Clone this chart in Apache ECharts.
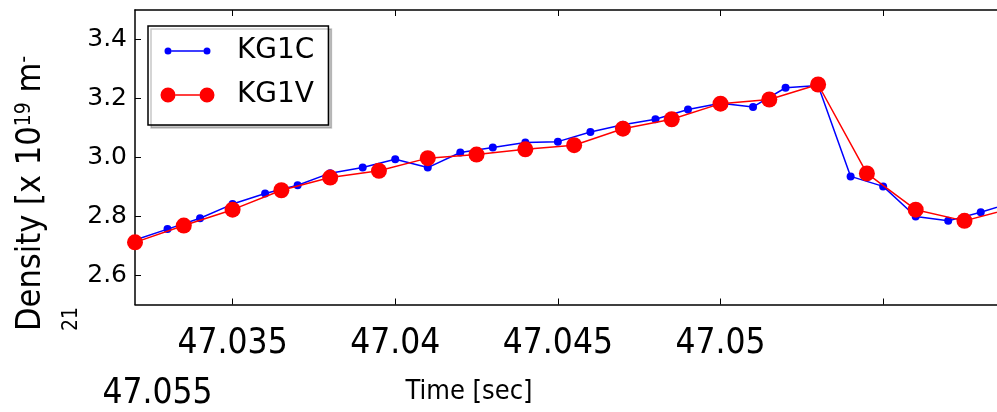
<!DOCTYPE html>
<html>
<head>
<meta charset="utf-8">
<script src="https://cdn.jsdelivr.net/npm/echarts@6/dist/echarts.min.js"></script>
<style>
html,body{margin:0;padding:0;background:#fff;}
#chart{width:997px;height:412px;}
</style>
</head>
<body>
<div id="chart"></div>
<script>
// ---- data ----
var kg1cTime = [47.032,47.033,47.034,47.035,47.036,47.037,47.038,47.039,47.040,47.041,47.042,47.043,47.044,47.045,47.046,47.047,47.048,47.049,47.050,47.051,47.052,47.053,47.054,47.055,47.056,47.057,47.058,47.059];
var kg1cDensity = [2.719,2.756,2.793,2.841,2.877,2.905,2.946,2.965,2.993,2.965,3.016,3.033,3.050,3.053,3.086,3.110,3.129,3.162,3.183,3.171,3.236,3.244,2.935,2.901,2.799,2.784,2.813,2.847];
var kg1vTime = [47.0320,47.0335,47.0350,47.0365,47.0380,47.0395,47.0410,47.0425,47.0440,47.0455,47.0470,47.0485,47.0500,47.0515,47.0530,47.0545,47.0560,47.0575,47.0590];
var kg1vDensity = [2.711,2.768,2.822,2.888,2.931,2.954,2.997,3.009,3.027,3.041,3.097,3.129,3.182,3.196,3.247,2.945,2.822,2.784,2.828];
var xTickValues = [47.035,47.040,47.045,47.050,47.055];
var xLabelValues = [47.035,47.040,47.045,47.050];
var yTickValues = [2.6,2.8,3.0,3.2,3.4];
var seriesNames = ['KG1C','KG1V'];

function zip(a,b){var r=[];for(var i=0;i<a.length;i++){r.push([a[i],b[i]]);}return r;}

var narrow = '"Liberation Sans Narrow","DejaVu Sans Condensed","Liberation Sans",sans-serif';
var cond = '"DejaVu Sans Condensed","Liberation Sans Narrow","DejaVu Sans",sans-serif';
var dv = '"DejaVu Sans",sans-serif';

// legend icons (line with two end markers); tiny corner specks fix the bounding box
var blueIcon = 'path://M0,0L0.01,0L0,0.01Z M55,16L54.99,16L55,15.99Z M4.5,8A3.5,3.5 0 1,0 11.5,8A3.5,3.5 0 1,0 4.5,8Z M11.5,7.3L43.5,7.3L43.5,8.7L11.5,8.7Z M43.5,8A3.5,3.5 0 1,0 50.5,8A3.5,3.5 0 1,0 43.5,8Z';
var redIcon = 'path://M0,0L0.01,0L0,0.01Z M55,16L54.99,16L55,15.99Z M0.5,8A7.5,7.5 0 1,0 15.5,8A7.5,7.5 0 1,0 0.5,8Z M15.5,7.3L39.5,7.3L39.5,8.7L15.5,8.7Z M39.5,8A7.5,7.5 0 1,0 54.5,8A7.5,7.5 0 1,0 39.5,8Z';

var chart = echarts.init(document.getElementById('chart'), null, {renderer:'canvas'});
var axisLineStyle = {color:'#000', width:1.5};
chart.setOption({
  animation:false,
  backgroundColor:'#fff',
  grid:{left:135, right:0, top:10, bottom:107.5, containLabel:false},
  legend:{
    left:148, top:26, orient:'vertical',
    padding:[8,14,13,12],
    itemWidth:55, itemHeight:16, itemGap:10,
    borderColor:'#000', borderWidth:1.5,
    backgroundColor:'#fff',
    shadowColor:'rgba(0,0,0,0.22)', shadowOffsetX:3, shadowOffsetY:3, shadowBlur:0,
    textStyle:{fontFamily:dv, fontSize:28, color:'#000', lineHeight:34, padding:[0,0,0,17]},
    data:[{name:seriesNames[0], icon:blueIcon},{name:seriesNames[1], icon:redIcon}]
  },
  xAxis:[{
    type:'value', min:47.032, max:47.0585, position:'bottom',
    axisLine:{show:true, onZero:false, lineStyle:axisLineStyle},
    axisTick:{show:true, inside:true, length:6, customValues:xTickValues, lineStyle:{color:'#000', width:1}},
    axisLabel:{show:true, customValues:xLabelValues, margin:22, fontFamily:narrow, fontSize:35, color:'#000',
      formatter:function(v){return String(parseFloat(v.toFixed(4)));}},
    splitLine:{show:false}
  },{
    type:'value', min:47.032, max:47.0585, position:'top',
    axisLine:{show:true, onZero:false, lineStyle:axisLineStyle},
    axisTick:{show:true, inside:true, length:6, customValues:xTickValues, lineStyle:{color:'#000', width:1}},
    axisLabel:{show:false},
    splitLine:{show:false}
  }],
  yAxis:{
    type:'value', min:2.5, max:3.5,
    axisLine:{show:true, onZero:false, lineStyle:axisLineStyle},
    axisTick:{show:true, inside:true, length:6, customValues:yTickValues, lineStyle:{color:'#000', width:1}},
    axisLabel:{show:true, customValues:yTickValues, margin:8, fontFamily:dv, fontSize:25, color:'#000',
      formatter:function(v){return v.toFixed(1);}},
    splitLine:{show:false}
  },
  series:[{
    name:seriesNames[0], type:'line', data:zip(kg1cTime,kg1cDensity),
    symbol:'circle', symbolSize:8, showAllSymbol:true, clip:true,
    itemStyle:{color:'#0000ff'}, lineStyle:{color:'#0000ff', width:1.5}, z:2
  },{
    name:seriesNames[1], type:'line', data:zip(kg1vTime,kg1vDensity),
    symbol:'circle', symbolSize:16, showAllSymbol:true, clip:true,
    itemStyle:{color:'#ff0000'}, lineStyle:{color:'#ff0000', width:1.5}, z:3
  }],
  graphic:[
    {type:'text', x:31.5, y:331, rotation:Math.PI/2,
     style:{text:'Density [x 10{s|19} m{s|-}', fontFamily:cond, fontSize:34, fill:'#000', align:'left', verticalAlign:'middle',
       rich:{s:{fontFamily:cond, fontSize:21, fill:'#000', verticalAlign:'top', padding:[0,0,14,0]}}}},
    {type:'text', x:72, y:331, rotation:Math.PI/2,
     style:{text:'21', fontFamily:cond, fontSize:21, fill:'#000', align:'left', verticalAlign:'middle'}},
    {type:'text', x:469, y:392,
     style:{text:'Time [sec]', fontFamily:cond, fontSize:27, fill:'#000', align:'center', verticalAlign:'middle'}},
    {type:'text', x:157.5, y:394,
     style:{text:'47.055', fontFamily:narrow, fontSize:35, fill:'#000', align:'center', verticalAlign:'middle'}}
  ]
});
</script>
</body>
</html>
